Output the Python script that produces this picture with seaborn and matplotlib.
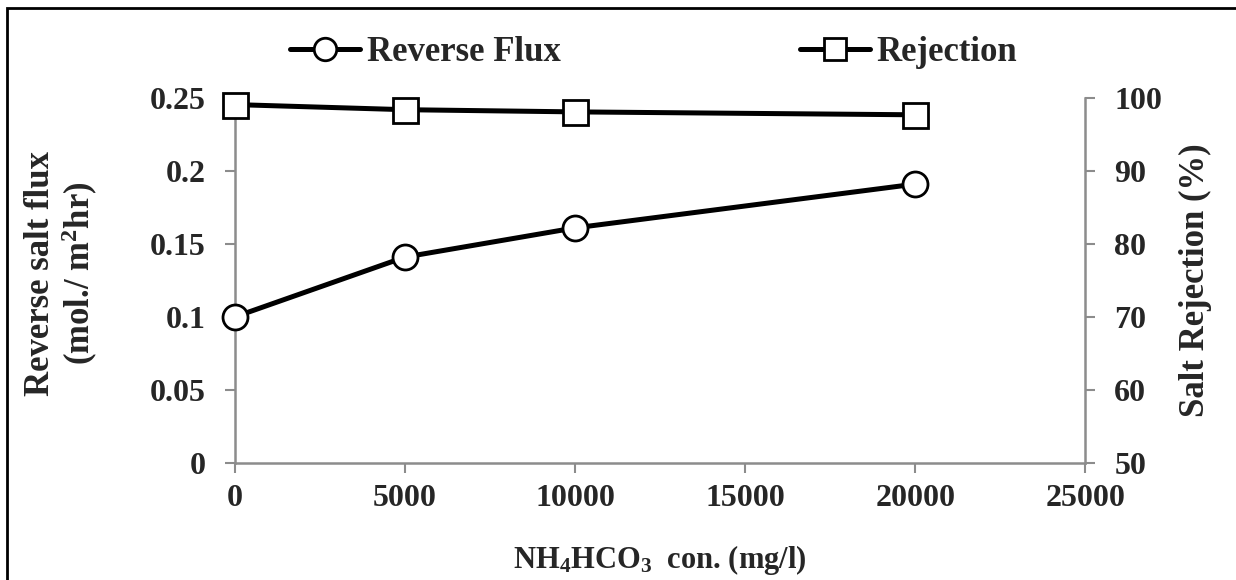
import pandas as pd
import matplotlib.pyplot as plt
import matplotlib.patches as mpatches
import seaborn as sns

# dữ liệu
conc = [0, 5000, 10000, 20000]
reverse_flux = [0.100, 0.141, 0.161, 0.191]
rejection = [99.1, 98.4, 98.1, 97.7]

x_ticks = [0, 5000, 10000, 15000, 20000, 25000]
y_ticks = [0, 0.05, 0.1, 0.15, 0.2, 0.25]
y_tick_labels = ["0", "0.05", "0.1", "0.15", "0.2", "0.25"]
y2_ticks = [50, 60, 70, 80, 90, 100]

sns.set_theme(style="white")
plt.rcParams['font.family'] = ['Liberation Serif', 'DejaVu Serif']
plt.rcParams['font.weight'] = 'bold'
plt.rcParams['mathtext.default'] = 'regular'

df = pd.DataFrame({"conc": conc, "flux": reverse_flux, "rej": rejection})

fig = plt.figure(figsize=(12.36, 5.8), dpi=100)
ax = fig.add_axes([0.190, 0.202, 0.688, 0.629])
ax2 = ax.twinx()

marker_kw = dict(markersize=18, markerfacecolor='white', markeredgecolor='black',
                 markeredgewidth=2)
sns.lineplot(data=df, x="conc", y="flux", ax=ax, color='black', linewidth=3.6,
             marker='o', label="Reverse Flux", legend=False, clip_on=False,
             zorder=5, **marker_kw)
sns.lineplot(data=df, x="conc", y="rej", ax=ax2, color='black', linewidth=3.6,
             marker='s', label="Rejection", legend=False, clip_on=False,
             zorder=5, **marker_kw)

ax.set_xlim(0, 25000)
ax.set_ylim(0, 0.25)
ax2.set_ylim(50, 100)
ax.set_xticks(x_ticks)
ax.set_xticklabels([str(v) for v in x_ticks])
ax.set_yticks(y_ticks)
ax.set_yticklabels(y_tick_labels)
ax2.set_yticks(y2_ticks)

gray = '#8c8c8c'
for a in (ax, ax2):
    for s in a.spines.values():
        s.set_visible(False)
    a.tick_params(labelsize=23, length=7, width=1.5, color=gray)
    for lab in a.get_xticklabels() + a.get_yticklabels():
        lab.set_fontweight('bold')

ax.spines['left'].set_visible(True)
ax.spines['bottom'].set_visible(True)
ax2.spines['right'].set_visible(True)
for s in (ax.spines['left'], ax.spines['bottom'], ax2.spines['right']):
    s.set_color(gray)
    s.set_linewidth(1.8)

ax.tick_params(axis='x', bottom=True, direction='out', pad=8)
ax.tick_params(axis='y', left=True, direction='out', pad=14)
ax2.tick_params(axis='y', right=True, direction='out', pad=14)

ax.set_xlabel("NH$_4$HCO$_3$  con. (mg/l)", fontsize=22, fontweight='bold', labelpad=22)
ax.set_ylabel("Reverse salt flux\n(mol./ m$^2$hr)", fontsize=25, fontweight='bold',
              linespacing=1.1)
ax.yaxis.set_label_coords(-0.158, 0.52)
ax2.set_ylabel("Salt Rejection (%)", fontsize=25, fontweight='bold', labelpad=12)

h1, l1 = ax.get_legend_handles_labels()
h2, l2 = ax2.get_legend_handles_labels()
fig.legend(h1 + h2, l1 + l2, loc='center', bbox_to_anchor=(0.529, 0.91), ncol=2,
           frameon=False, prop={'weight': 'bold', 'size': 25},
           columnspacing=6.9, handlelength=2.0, handletextpad=0.2, markerscale=0.9)

# khung viền ngoài
fig.patches.append(mpatches.Rectangle((0.006, -0.02), 1.0, 1.006, transform=fig.transFigure,
                                      fill=False, edgecolor='black', linewidth=2))

fig.savefig("out.png", dpi=100)
